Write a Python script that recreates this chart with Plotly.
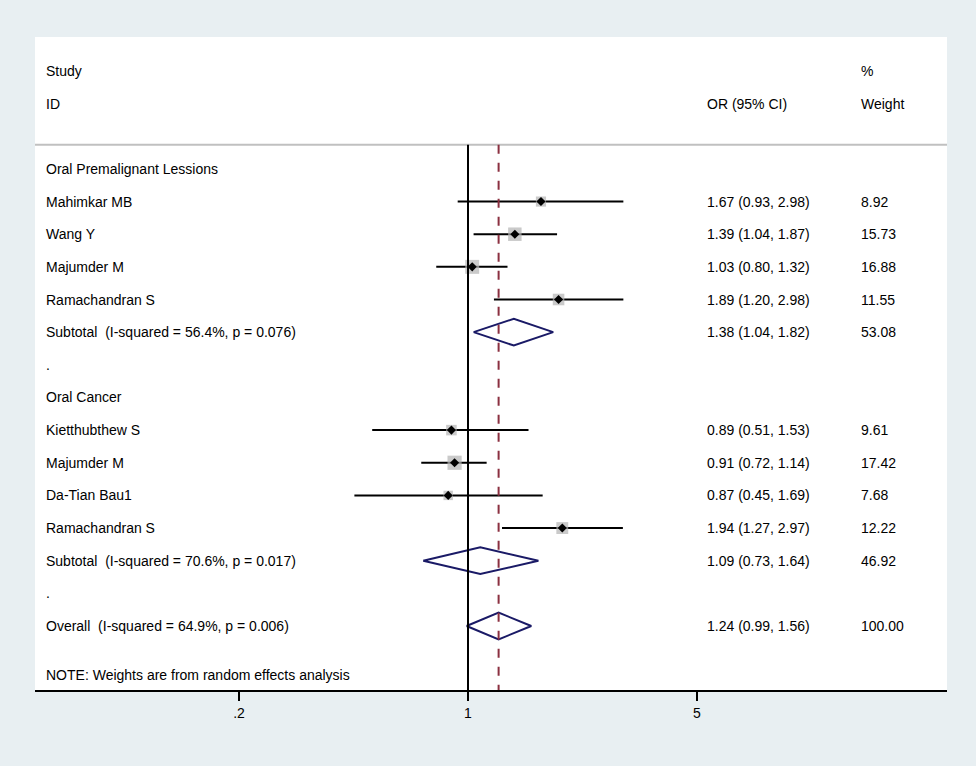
import plotly.graph_objects as go
import math

# ---- data ----
study_labels = ["Mahimkar MB", "Wang Y", "Majumder M", "Ramachandran S",
                "Kietthubthew S", "Majumder M", "Da-Tian Bau1", "Ramachandran S"]
study_or = [1.67, 1.39, 1.03, 1.89, 0.89, 0.91, 0.87, 1.94]
study_lo = [0.93, 1.04, 0.80, 1.20, 0.51, 0.72, 0.45, 1.27]
study_hi = [2.98, 1.87, 1.32, 2.98, 1.53, 1.14, 1.69, 2.97]
study_wt = [8.92, 15.73, 16.88, 11.55, 9.61, 17.42, 7.68, 12.22]
study_rows = [1, 2, 3, 4, 8, 9, 10, 11]

pool_labels = ["Subtotal  (I-squared = 56.4%, p = 0.076)",
               "Subtotal  (I-squared = 70.6%, p = 0.017)",
               "Overall  (I-squared = 64.9%, p = 0.006)"]
pool_or = [1.38, 1.09, 1.24]
pool_lo = [1.04, 0.73, 0.99]
pool_hi = [1.82, 1.64, 1.56]
pool_wt = [53.08, 46.92, 100.00]
pool_rows = [5, 12, 14]

group_labels = ["Oral Premalignant Lessions", "Oral Cancer"]
group_rows = [0, 7]
dot_rows = [6, 13]

overall_est = 1.24
x_ticks = [0.2, 1, 5]
x_ticktext = [".2", "1", "5"]

# ---- figure ----
FONT = "Liberation Sans, Arial, sans-serif"
FS = 14
BG = "#e8eff2"
fig = go.Figure()

# CI lines
for r, lo, hi in zip(study_rows, study_lo, study_hi):
    fig.add_trace(go.Scatter(x=[lo, hi], y=[r, r], mode="lines",
                             line=dict(color="black", width=2),
                             showlegend=False, hoverinfo="skip"))

# weight boxes
fig.add_trace(go.Scatter(x=study_or, y=study_rows, mode="markers",
                         marker=dict(symbol="square", color="#b4b4b4",
                                     size=[3.4 * math.sqrt(w) for w in study_wt],
                                     line=dict(width=0)),
                         showlegend=False, hoverinfo="skip"))
# point estimates
fig.add_trace(go.Scatter(x=study_or, y=study_rows, mode="markers",
                         marker=dict(symbol="diamond", color="black", size=7),
                         showlegend=False, hoverinfo="skip"))

# pooled diamonds
h = 0.41
for r, est, lo, hi in zip(pool_rows, pool_or, pool_lo, pool_hi):
    fig.add_trace(go.Scatter(x=[lo, est, hi, est, lo], y=[r, r - h, r, r + h, r],
                             mode="lines", line=dict(color="#1a1a66", width=2),
                             showlegend=False, hoverinfo="skip"))

Y_TOP, Y_BOT = -4.04, 15.96
SEP = -0.74

shapes = [
    dict(type="line", xref="paper", yref="y", x0=0, x1=1, y0=SEP, y1=SEP,
         line=dict(color="#c0c0c0", width=2)),
    dict(type="line", xref="x", yref="y", x0=1, x1=1, y0=SEP, y1=Y_BOT,
         line=dict(color="black", width=2)),
    dict(type="line", xref="x", yref="y", x0=overall_est, x1=overall_est, y0=SEP, y1=Y_BOT,
         line=dict(color="#8b3040", width=2, dash="dash")),
]

ann = []
def txt(xp, y, s):
    ann.append(dict(x=xp, y=y, xref="paper", yref="y", text=s, showarrow=False,
                    xanchor="left", yanchor="middle",
                    font=dict(family=FONT, size=FS, color="black")))

X_LAB = (44 - 35) / 912
X_OR = (705 - 35) / 912
X_WT = (859 - 35) / 912

txt(X_LAB, -3, "Study")
txt(X_LAB, -2, "ID")
txt(X_OR, -2, "OR (95% CI)")
txt(X_WT, -3, "%")
txt(X_WT, -2, "Weight")

for s, r in zip(group_labels, group_rows):
    txt(X_LAB, r, s)
for r in dot_rows:
    txt(X_LAB, r, ".")
for s, r, est, lo, hi, w in zip(study_labels, study_rows, study_or, study_lo, study_hi, study_wt):
    txt(X_LAB, r, s)
    txt(X_OR, r, f"{est:.2f} ({lo:.2f}, {hi:.2f})")
    txt(X_WT, r, f"{w:.2f}")
for s, r, est, lo, hi, w in zip(pool_labels, pool_rows, pool_or, pool_lo, pool_hi, pool_wt):
    txt(X_LAB, r, s)
    txt(X_OR, r, f"{est:.2f} ({lo:.2f}, {hi:.2f})")
    txt(X_WT, r, f"{w:.2f}")
txt(X_LAB, 15.5, "NOTE: Weights are from random effects analysis")

fig.update_layout(
    width=976, height=766,
    margin=dict(l=35, r=29, t=37, b=76),
    paper_bgcolor=BG, plot_bgcolor="white",
    shapes=shapes, annotations=ann, showlegend=False,
    font=dict(family=FONT, size=FS, color="black"),
    xaxis=dict(type="log", range=[-1.3217, 1.4621], tickvals=x_ticks, ticktext=x_ticktext,
               showgrid=False, zeroline=False, showline=True, linecolor="black", linewidth=2,
               ticks="outside", ticklen=9, tickwidth=2, tickcolor="black",
               tickfont=dict(family=FONT, size=FS, color="black"), fixedrange=True),
    yaxis=dict(range=[Y_BOT, Y_TOP], visible=False, showgrid=False, zeroline=False,
               fixedrange=True),
)

fig.write_html("out.html",
               post_script="document.body.style.margin='0';"
                           "document.body.style.background='" + BG + "';",
               config={"displayModeBar": False})
